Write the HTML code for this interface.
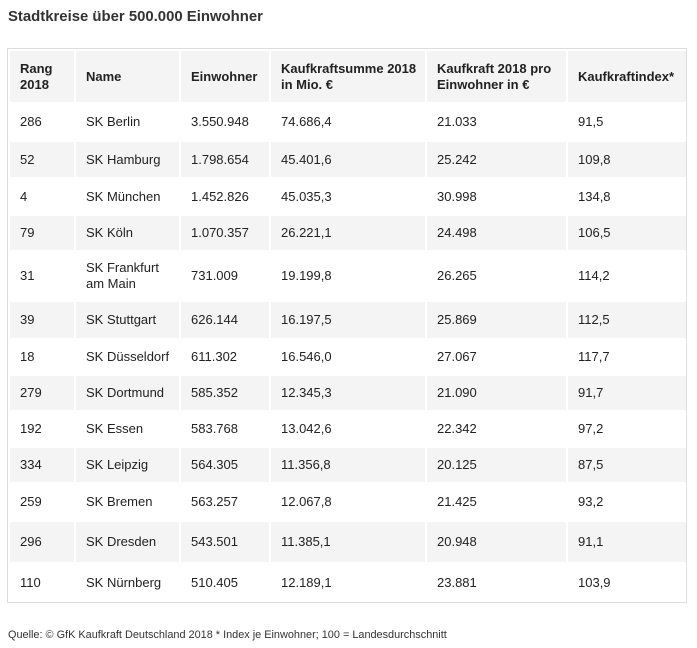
<!DOCTYPE html>
<html><head><meta charset="utf-8"><style>
body{margin:0;width:697px;height:648px;background:#fff;font-family:"Liberation Sans",Arial,sans-serif;color:#222;position:relative;overflow:hidden}
h1{position:absolute;left:8px;top:9px;margin:0;font-size:14.9px;font-weight:bold;color:#333}
.box{position:absolute;left:7px;top:48px;width:680px;height:555px;border:1px solid #ddd;box-sizing:border-box}
table{position:absolute;left:8px;top:49px;border-collapse:separate;border-spacing:2px;font-size:13px}
td,th{padding:0 0 0 10px;text-align:left;vertical-align:middle;line-height:16px}
th{font-weight:bold;background:#f4f4f4;height:51px}
tr.g td{background:#f4f4f4}
.foot{position:absolute;left:8px;top:629px;font-size:10.9px;color:#333}
</style></head><body>
<h1>Stadtkreise über 500.000 Einwohner</h1>
<div class="box"></div>
<table>
<colgroup><col style="width:64px"><col style="width:103px"><col style="width:88px"><col style="width:154px"><col style="width:139px"><col style="width:118px"></colgroup>
<tr><th>Rang<br>2018</th><th>Name</th><th>Einwohner</th><th>Kaufkraftsumme 2018<br>in Mio. €</th><th>Kaufkraft 2018 pro<br>Einwohner in €</th><th>Kaufkraftindex*</th></tr>
<tr style="height:36px"><td>286</td><td>SK Berlin</td><td>3.550.948</td><td>74.686,4</td><td>21.033</td><td>91,5</td></tr>
<tr class="g" style="height:35px"><td>52</td><td>SK Hamburg</td><td>1.798.654</td><td>45.401,6</td><td>25.242</td><td>109,8</td></tr>
<tr style="height:35px"><td>4</td><td>SK München</td><td>1.452.826</td><td>45.035,3</td><td>30.998</td><td>134,8</td></tr>
<tr class="g" style="height:34px"><td>79</td><td>SK Köln</td><td>1.070.357</td><td>26.221,1</td><td>24.498</td><td>106,5</td></tr>
<tr style="height:48px"><td>31</td><td>SK Frankfurt<br>am Main</td><td>731.009</td><td>19.199,8</td><td>26.265</td><td>114,2</td></tr>
<tr class="g" style="height:36px"><td>39</td><td>SK Stuttgart</td><td>626.144</td><td>16.197,5</td><td>25.869</td><td>112,5</td></tr>
<tr style="height:34px"><td>18</td><td>SK Düsseldorf</td><td>611.302</td><td>16.546,0</td><td>27.067</td><td>117,7</td></tr>
<tr class="g" style="height:34px"><td>279</td><td>SK Dortmund</td><td>585.352</td><td>12.345,3</td><td>21.090</td><td>91,7</td></tr>
<tr style="height:34px"><td>192</td><td>SK Essen</td><td>583.768</td><td>13.042,6</td><td>22.342</td><td>97,2</td></tr>
<tr class="g" style="height:34px"><td>334</td><td>SK Leipzig</td><td>564.305</td><td>11.356,8</td><td>20.125</td><td>87,5</td></tr>
<tr style="height:36px"><td>259</td><td>SK Bremen</td><td>563.257</td><td>12.067,8</td><td>21.425</td><td>93,2</td></tr>
<tr class="g" style="height:40px"><td>296</td><td>SK Dresden</td><td>543.501</td><td>11.385,1</td><td>20.948</td><td>91,1</td></tr>
<tr style="height:38px"><td>110</td><td>SK Nürnberg</td><td>510.405</td><td>12.189,1</td><td>23.881</td><td>103,9</td></tr>
</table>
<div class="foot">Quelle: © GfK Kaufkraft Deutschland 2018 * Index je Einwohner; 100 = Landesdurchschnitt</div>
</body></html>
